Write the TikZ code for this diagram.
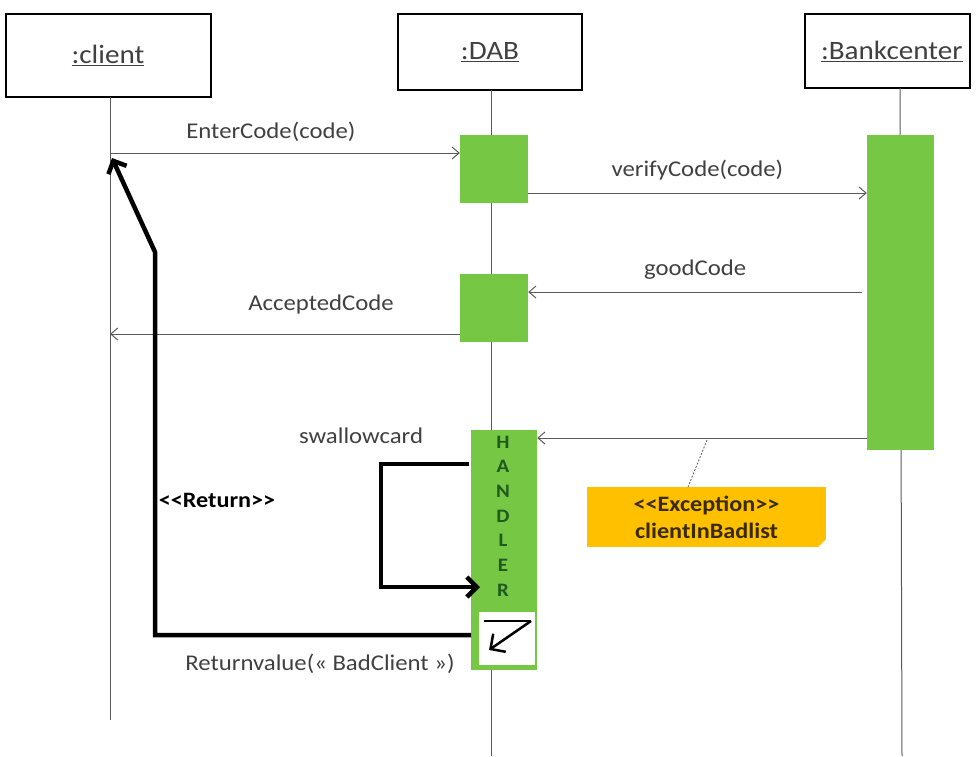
\documentclass[tikz,border=0pt]{standalone}
\usepackage{fontspec}
\setmainfont{Carlito}[FakeStretch=1.1]
\usetikzlibrary{arrows.meta}
\definecolor{actgreen}{HTML}{76C743}
\definecolor{lifegray}{HTML}{5A5A5A}
\definecolor{txtgray}{HTML}{404040}
\definecolor{notefill}{HTML}{FFC000}
\definecolor{notetext}{HTML}{3A2A00}
\definecolor{handtext}{HTML}{1F5A1F}
\tikzset{
  objbox/.style={draw=black, line width=2pt, fill=white, inner sep=0pt, font=\fontsize{26.5}{30}\selectfont, text=txtgray},
  lifeline/.style={draw=lifegray, line width=1pt},
  act/.style={fill=actgreen, draw=none, inner sep=0pt},
  msg/.style={draw=lifegray, line width=1pt, -{Straight Barb[length=7pt,width=12pt]}},
  lbl/.style={font=\fontsize{22.5}{26}\selectfont, text=txtgray, inner sep=0pt},
  thickarrow/.style={draw=black, line width=4.5pt, line join=miter, -{Straight Barb[length=10pt,width=20pt,line width=4.5pt]}}
}
\begin{document}
\begin{tikzpicture}[x=1pt,y=-1pt]
\useasboundingbox (0,0) rectangle (978,756);
% objects
\node[objbox, minimum width=205pt, minimum height=83pt] (client) at (108,55.5) {\underline{:client}};
\node[objbox, minimum width=184pt, minimum height=76pt] (dab) at (490,52) {\underline{:DAB}};
\node[objbox, minimum width=165pt, minimum height=74pt, text width=150pt, align=right] (bank) at (887.5,51) {\underline{:Bankcenter}};
% lifeline end points
\coordinate (clt) at (110,97);
\coordinate (clb) at (110,720);
\coordinate (dbt) at (491,90);
\coordinate (dbb) at (491,756);
\coordinate (bkt) at (900,88);
\coordinate (bkb) at (902,756);
\draw[lifeline] (clt) -- (clb);
\draw[lifeline] (dbt) -- (dbb);
\draw[lifeline] (bkt) -- (bkb);
% activations
\node[act, minimum width=68pt, minimum height=68pt] (act1) at (494,169) {};
\node[act, minimum width=68pt, minimum height=68pt] (act2) at (494,308) {};
\node[act, minimum width=67pt, minimum height=315pt] (bact) at (900.5,292.5) {};
\node[act, minimum width=66pt, minimum height=240pt] (hand) at (504,550) {};
\node[fill=white, draw=none, minimum width=56pt, minimum height=53pt, inner sep=0pt] (wsq) at (507,638.5) {};
\node[font=\bfseries\fontsize{19}{24.7}\selectfont, align=center, text=handtext, inner sep=0pt] (htxt) at (503,516) {H\\A\\N\\D\\L\\E\\R};
% symbol in white square
\coordinate (s1) at (484,621);
\coordinate (s2) at (531,621);
\coordinate (s3) at (489,650);
\draw[black, line width=2.5pt] (s1) -- (s2);
\draw[black, line width=2.5pt, -{Straight Barb[length=11pt,width=22pt,line width=2.5pt]}] (s2) -- (s3);
% messages
\coordinate (m1) at (110,153);
\draw[msg] (m1) -- (m1 -| act1.west) node[lbl, pos=0.46, above=11pt] {EnterCode(code)};
\coordinate (m2) at (528,193);
\draw[msg] (m2) -- (m2 -| bact.west) node[lbl, midway, above=12pt] {verifyCode(code)};
\coordinate (m3) at (862,292);
\draw[msg] (m3) -- (m3 -| act2.east) node[lbl, midway, above=12pt] {goodCode};
\coordinate (m4) at (460,334);
\draw[msg] (m4) -- (m4 -| clb) ;
\node[lbl] (l4) at (321,304) {AcceptedCode};
\coordinate (m5) at (867,438);
\draw[msg] (m5) -- (m5 -| hand.east);
% exception note
\node[fill=notefill, minimum width=239pt, minimum height=60pt, inner sep=0pt, align=center,
      font=\bfseries\fontsize{22}{27}\selectfont, text=notetext] (note) at (706.5,517) {<{}<Exception>{}>\\clientInBadlist};
\fill[white] (note.south east) -- ++(-8,0) -- ++(8,-8) -- cycle;
\coordinate (ex1) at (707,440);
\coordinate (ex2) at (688,487);
\draw[lifegray, line width=0.8pt, dash pattern=on 2pt off 1.5pt] (ex1) -- (ex2);
% swallowcard self-call
\coordinate (sw1) at (469,464);
\coordinate (sw2) at (381,464);
\coordinate (sw3) at (381,587);
\coordinate (sw4) at (480,587);
\draw[thickarrow] (sw1) -- (sw2) -- (sw3) -- (sw4);
\node[lbl] (swl) at (361,436) {swallowcard};
% return
\coordinate (r1) at (471,635);
\coordinate (r2) at (155,635);
\coordinate (r3) at (155,252);
\coordinate (r4) at (112,158);
\draw[thickarrow] (r1) -- (r2) -- (r3) -- (r4);
\node[lbl, font=\bfseries\fontsize{22}{26}\selectfont, text=black] (rl) at (217,500) {<{}<Return>{}>};
\node[lbl] (rv) at (320,664) {Returnvalue(« BadClient »)};
\end{tikzpicture}
\end{document}
